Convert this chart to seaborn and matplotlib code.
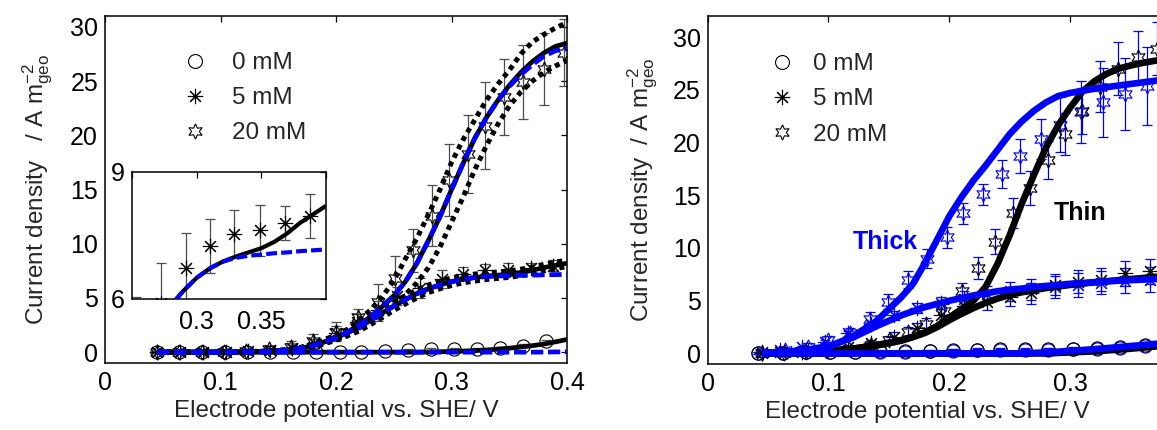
import matplotlib
matplotlib.use("Agg")
import matplotlib.pyplot as plt
import seaborn as sns
from matplotlib.lines import Line2D

# ---------------------------------------------------------------- data
# potential grid of the simulated curves (V vs. SHE)
e_sim = [0.045, 0.06, 0.08, 0.10, 0.12, 0.14, 0.16, 0.17, 0.18, 0.19, 0.20,
         0.21, 0.22, 0.23, 0.24, 0.25, 0.26, 0.27, 0.28, 0.29, 0.30, 0.31,
         0.32, 0.33, 0.34, 0.35, 0.36, 0.37, 0.38, 0.39, 0.40]

# left panel: model (black solid), fit (blue dashed), bounds (black dotted)
L0_model = [0, 0, 0, 0, 0, 0, 0, 0, 0, 0, 0, 0, 0, 0, 0, 0, 0, 0, 0.02, 0.04,
            0.07, 0.10, 0.14, 0.20, 0.28, 0.37, 0.48, 0.60, 0.75, 0.95, 1.17]
L0_fit = [0, 0, 0, 0, 0, 0, 0, 0, 0, 0, 0, 0, 0, 0, 0, 0, 0, 0, 0, 0,
          0, 0, 0, 0, 0, 0, 0, 0, 0.01, 0.02, 0.03]
L5_model = [0, 0, 0, 0.01, 0.03, 0.08, 0.20, 0.35, 0.60, 0.95, 1.35, 1.80,
            2.30, 2.95, 3.60, 4.25, 4.85, 5.40, 5.85, 6.20, 6.50, 6.72, 6.88,
            7.00, 7.10, 7.20, 7.35, 7.55, 7.80, 8.00, 8.20]
L5_fit = [0, 0, 0, 0.01, 0.03, 0.08, 0.20, 0.35, 0.60, 0.95, 1.35, 1.80,
          2.30, 2.95, 3.60, 4.25, 4.85, 5.40, 5.85, 6.20, 6.50, 6.72, 6.88,
          6.97, 7.02, 7.05, 7.08, 7.10, 7.13, 7.15, 7.17]
L5_upper = [0, 0, 0, 0.01, 0.04, 0.10, 0.25, 0.45, 0.75, 1.15, 1.60, 2.10,
            2.65, 3.30, 3.95, 4.60, 5.20, 5.75, 6.20, 6.55, 6.85, 7.05, 7.20,
            7.30, 7.40, 7.50, 7.65, 7.85, 8.10, 8.30, 8.50]
L5_lower = [0, 0, 0, 0, 0.02, 0.06, 0.15, 0.27, 0.47, 0.78, 1.10, 1.50,
            1.95, 2.55, 3.20, 3.85, 4.45, 5.00, 5.50, 5.85, 6.15, 6.40, 6.55,
            6.70, 6.80, 6.90, 7.05, 7.25, 7.50, 7.70, 7.90]
L20_model = [0, 0, 0, 0.01, 0.03, 0.08, 0.20, 0.35, 0.60, 0.95, 1.35, 1.85,
             2.50, 3.30, 4.20, 5.20, 6.50, 8.20, 10.3, 12.5, 15.0, 17.4, 19.7,
             21.6, 23.2, 24.6, 25.8, 26.8, 27.6, 28.2, 28.5]
L20_fit = [0, 0, 0, 0.01, 0.03, 0.08, 0.20, 0.35, 0.60, 0.95, 1.35, 1.85,
           2.50, 3.30, 4.20, 5.20, 6.50, 8.20, 10.3, 12.5, 15.0, 17.4, 19.7,
           21.6, 23.2, 24.5, 25.6, 26.5, 27.3, 27.8, 28.0]
L20_upper = [0, 0, 0, 0.01, 0.04, 0.10, 0.25, 0.45, 0.75, 1.10, 1.50, 2.10,
             3.00, 3.90, 5.10, 6.60, 8.60, 10.5, 12.7, 15.0, 17.5, 19.6, 21.4,
             23.2, 24.7, 26.0, 27.5, 28.6, 29.3, 29.9, 30.4]
L20_lower = [0, 0, 0, 0, 0.02, 0.06, 0.15, 0.27, 0.47, 0.80, 1.20, 1.60,
             2.10, 2.80, 3.50, 4.30, 5.30, 6.40, 7.80, 9.70, 12.0, 14.3, 16.8,
             19.0, 21.0, 22.7, 24.0, 25.0, 25.8, 26.4, 26.9]

# left panel: measurements (mean, standard deviation)
L0_E = [0.045, 0.064, 0.084, 0.104, 0.123, 0.143, 0.163, 0.183, 0.203, 0.222,
        0.242, 0.262, 0.282, 0.302, 0.322, 0.342, 0.362, 0.382]
L0_j = [0.0, 0.0, 0.0, 0.0, 0.0, 0.05, 0.05, 0.05, 0.05, 0.05, 0.1, 0.2,
        0.25, 0.3, 0.3, 0.35, 0.6, 1.0]
L0_sd = [0.1, 0.1, 0.1, 0.1, 0.1, 0.1, 0.1, 0.1, 0.1, 0.1, 0.1, 0.1, 0.1,
         0.1, 0.1, 0.1, 0.15, 0.15]
L5_E = [0.045, 0.065, 0.085, 0.105, 0.124, 0.143, 0.162, 0.181, 0.200, 0.218,
        0.236, 0.253, 0.2723, 0.2915, 0.310, 0.329, 0.349, 0.3685, 0.3877]
L5_j = [0.0, 0.0, 0.02, 0.05, 0.1, 0.2, 0.4, 0.8, 1.8, 2.8, 3.9, 5.2, 5.9,
        6.74, 7.25, 7.54, 7.62, 7.80, 7.96]
L5_sd = [0.1, 0.1, 0.1, 0.1, 0.15, 0.2, 0.3, 0.4, 0.6, 0.7, 0.8, 0.85, 0.95,
         0.82, 0.64, 0.56, 0.60, 0.40, 0.52]
L20_E = [0.045, 0.064, 0.084, 0.103, 0.122, 0.142, 0.161, 0.180, 0.200, 0.219,
         0.236, 0.251, 0.267, 0.283, 0.298, 0.314, 0.329, 0.345, 0.362, 0.380,
         0.397]
L20_j = [0.0, 0.0, 0.0, 0.05, 0.1, 0.25, 0.5, 1.0, 1.9, 3.25, 4.6, 6.8, 9.4,
         12.6, 15.85, 18.3, 20.9, 23.5, 24.9, 26.1, 27.6]
L20_sd = [0.1, 0.1, 0.1, 0.1, 0.2, 0.3, 0.5, 0.7, 0.9, 0.7, 1.7, 2.1, 2.0,
          2.8, 3.3, 3.6, 4.0, 3.5, 3.4, 3.3, 3.1]

# right panel: simulated curves for thin (black) and thick (blue) films
R0_thin = [0, 0, 0, 0, 0, 0, 0, 0, 0, 0, 0, 0, 0, 0, 0, 0, 0, 0, 0, 0.05,
           0.10, 0.15, 0.20, 0.28, 0.36, 0.45, 0.55, 0.65, 0.78, 0.90, 1.05]
R0_thick = [0, 0, 0, 0, 0, 0, 0, 0, 0, 0, 0, 0, 0, 0, 0, 0, 0, 0.05, 0.10,
            0.17, 0.25, 0.32, 0.40, 0.50, 0.60, 0.70, 0.80, 0.90, 1.00, 1.15,
            1.30]
R5_thin = [0.02, 0.05, 0.10, 0.25, 0.45, 0.75, 1.20, 1.55, 1.95, 2.50, 3.15,
           3.75, 4.30, 4.80, 5.20, 5.55, 5.80, 6.00, 6.20, 6.35, 6.50, 6.62,
           6.75, 6.85, 6.95, 7.05, 7.15, 7.25, 7.35, 7.45, 7.55]
R5_thick = [0.05, 0.10, 0.30, 0.70, 1.50, 2.60, 3.60, 4.00, 4.40, 4.70, 5.00,
            5.25, 5.50, 5.70, 5.90, 6.05, 6.15, 6.30, 6.40, 6.50, 6.60, 6.68,
            6.75, 6.82, 6.90, 6.95, 7.00, 7.05, 7.10, 7.15, 7.20]
R20_thin = [0.02, 0.05, 0.10, 0.25, 0.45, 0.80, 1.25, 1.60, 2.00, 2.60, 3.40,
            4.20, 5.00, 6.30, 8.50, 11.2, 14.2, 16.9, 19.5, 21.6, 23.3, 24.8,
            25.8, 26.5, 27.0, 27.3, 27.55, 27.75, 27.9, 28.0, 28.1]
R20_thick = [0.05, 0.10, 0.30, 0.60, 1.60, 3.10, 5.30, 6.60, 8.60, 10.8, 13.0,
             14.8, 16.4, 17.8, 19.3, 20.8, 22.0, 23.0, 23.8, 24.4, 24.7, 24.9,
             25.1, 25.25, 25.4, 25.55, 25.7, 25.85, 26.0, 26.1, 26.2]

# right panel: measurements
R0_E = [0.042, 0.0625, 0.0817, 0.1012, 0.1219, 0.1426, 0.1633, 0.184, 0.2033,
        0.2227, 0.242, 0.2627, 0.282, 0.3027, 0.322, 0.3414, 0.362]
R0_thin_j = [0.05, 0.05, 0.1, 0.1, 0.15, 0.2, 0.2, 0.25, 0.3, 0.35, 0.4,
             0.4, 0.4, 0.45, 0.5, 0.6, 0.8]
R0_thick_j = [0.05, 0.05, 0.1, 0.1, 0.1, 0.15, 0.15, 0.2, 0.25, 0.3, 0.3,
              0.3, 0.35, 0.4, 0.45, 0.55, 0.7]
R0_sd = [0.1, 0.1, 0.1, 0.1, 0.1, 0.1, 0.1, 0.1, 0.15, 0.15, 0.15, 0.15,
         0.15, 0.15, 0.2, 0.2, 0.2]
R5_E = [0.045, 0.060, 0.078, 0.097, 0.116, 0.135, 0.154, 0.173, 0.193, 0.212,
        0.231, 0.250, 0.268, 0.2875, 0.307, 0.326, 0.3455, 0.366, 0.385]
R5_thin_j = [0.05, 0.1, 0.15, 0.3, 0.6, 1.0, 1.6, 2.4, 3.6, 4.5, 4.9, 5.4,
             5.7, 6.5, 6.8, 7.0, 7.6, 7.8, 8.0]
R5_thick_j = [0.1, 0.3, 0.6, 1.1, 1.9, 2.8, 3.6, 4.3, 4.8, 5.2, 5.6, 5.9,
              6.1, 6.3, 6.5, 6.7, 6.9, 7.0, 7.1]
R5_sd = [0.1, 0.1, 0.1, 0.15, 0.2, 0.3, 0.4, 0.5, 0.6, 0.7, 0.8, 0.9, 1.0,
         1.0, 1.1, 1.1, 1.2, 1.2, 1.2]
R20_thin_E = [0.045, 0.063, 0.081, 0.099, 0.117, 0.135, 0.1505, 0.1655, 0.181,
              0.196, 0.2103, 0.2235, 0.238, 0.253, 0.2665, 0.282, 0.2958,
              0.3096, 0.3248, 0.340, 0.3565, 0.3717]
R20_thin_j = [0.05, 0.05, 0.1, 0.2, 0.4, 0.8, 1.3, 2.0, 2.8, 4.0, 5.9, 8.1,
              10.6, 13.3, 15.7, 18.3, 20.8, 23.0, 25.3, 27.0, 28.1, 28.9]
R20_thin_sd = [0.1, 0.1, 0.1, 0.15, 0.2, 0.3, 0.4, 0.5, 0.6, 0.7, 0.8, 1.0,
               1.2, 1.4, 1.6, 1.8, 2.0, 2.2, 2.4, 2.5, 2.5, 2.5]
R20_thick_E = [0.045, 0.064, 0.083, 0.100, 0.118, 0.134, 0.1495, 0.166,
               0.1813, 0.1978, 0.2116, 0.2276, 0.2434, 0.2586, 0.2759, 0.2917,
               0.3095, 0.327, 0.3454, 0.3635]
R20_thick_j = [0.05, 0.3, 0.65, 1.3, 1.9, 3.3, 4.9, 7.0, 9.0, 11.0, 13.3,
               15.1, 17.0, 18.7, 20.3, 21.7, 22.9, 23.8, 24.6, 25.4]
R20_thick_sd = [0.1, 0.2, 0.3, 0.4, 0.5, 0.6, 0.7, 0.8, 0.9, 1.0, 1.0, 1.0,
                1.3, 1.6, 1.9, 2.6, 2.9, 3.3, 3.4, 3.7]

conc_labels = ["0 mM", "5 mM", "20 mM"]
x_ticks = [0, 0.1, 0.2, 0.3, 0.4]
x_ticklabels_left = ["0", "0.1", "0.2", "0.3", "0.4"]
x_ticklabels_right = ["0", "0.1", "0.2", "0.3", ""]
y_ticks = [0, 5, 10, 15, 20, 25, 30]
x_title = "Electrode potential vs. SHE/ V"

# ---------------------------------------------------------------- style
sns.set_theme(style="white")
plt.rcParams["font.family"] = ["Liberation Sans", "DejaVu Sans"]
plt.rcParams["mathtext.fontset"] = "custom"
plt.rcParams["mathtext.rm"] = "Liberation Sans"
plt.rcParams["mathtext.it"] = "Liberation Sans:italic"
plt.rcParams["axes.edgecolor"] = "black"
plt.rcParams["axes.linewidth"] = 1.1

BLUE = "#0000ff"
FS = 17.5
M_CIRCLE = "o"
M_AST = (8, 2, 0)
M_STAR = (6, 1, 0)

fig = plt.figure(figsize=(11.57, 4.30), dpi=100)
axL = fig.add_axes([0.0908, 0.1558, 0.3993, 0.807])
axR = fig.add_axes([0.6117, 0.1535, 0.4175, 0.8093])
axI = fig.add_axes([0.1141, 0.3047, 0.1677, 0.2953])


def curve(ax, y, color, lw, ls, z):
    sns.lineplot(x=e_sim, y=y, ax=ax, color=color, linewidth=lw,
                 linestyle=ls, sort=False, estimator=None, legend=False,
                 zorder=z, dash_capstyle="butt", solid_capstyle="butt")


def points(ax, x, y, sd, marker, mcolor, ecolor, ms):
    ax.errorbar(x, y, yerr=sd, fmt="none", ecolor=ecolor, elinewidth=0.9,
                capsize=3.5, capthick=0.9, zorder=2)
    ax.plot(x, y, ls="none", marker=marker, ms=ms, mfc="none", mec=mcolor,
            mew=0.8, zorder=3)


DASH = (0, (2.6, 1.0))
DOT = (0, (1.0, 0.9))

# ---------------------------------------------------------------- left panel
points(axL, L0_E, L0_j, L0_sd, M_CIRCLE, "black", "0.3", 9.5)
points(axL, L5_E, L5_j, L5_sd, M_AST, "black", "0.3", 11)
points(axL, L20_E, L20_j, L20_sd, M_STAR, "black", "0.3", 11)

curve(axL, L0_model, "black", 3.4, "-", 4)
curve(axL, L5_model, "black", 3.4, "-", 4)
curve(axL, L20_model, "black", 3.4, "-", 4)
for yb in (L5_upper, L5_lower, L20_upper, L20_lower):
    curve(axL, yb, "black", 3.6, DOT, 5)
curve(axL, L0_fit, BLUE, 3.4, DASH, 6)
curve(axL, L5_fit, BLUE, 3.4, DASH, 6)
curve(axL, L20_fit, BLUE, 3.4, DASH, 6)

# inset: close-up of the 5 mM plateau
points(axI, L5_E, L5_j, L5_sd, M_AST, "black", "0.3", 11)
curve(axI, L5_model, "black", 3.0, "-", 4)
curve(axI, L5_fit, BLUE, 3.0, DASH, 6)

axL.set_xlim(0, 0.4)
axL.set_ylim(-1, 31)
axI.set_xlim(0.25, 0.4)
axI.set_ylim(6, 9)
axI.set_facecolor("white")
axI.set_zorder(10)
axI.set_xticks([0.25, 0.3, 0.35, 0.4])
axI.set_xticklabels(["", "0.3", "0.35", ""])
axI.set_yticks([6, 9])
axI.set_yticklabels(["6", "9"])

# ---------------------------------------------------------------- right panel
points(axR, R0_E, R0_thick_j, R0_sd, M_CIRCLE, BLUE, BLUE, 9.5)
points(axR, R0_E, R0_thin_j, R0_sd, M_CIRCLE, "black", BLUE, 9.5)
points(axR, R5_E, R5_thick_j, R5_sd, M_AST, BLUE, BLUE, 11)
points(axR, R5_E, R5_thin_j, R5_sd, M_AST, "black", BLUE, 11)
points(axR, R20_thick_E, R20_thick_j, R20_thick_sd, M_STAR, BLUE, BLUE, 11)
points(axR, R20_thin_E, R20_thin_j, R20_thin_sd, M_STAR, "black", BLUE, 11)

for y in (R0_thin, R5_thin, R20_thin):
    curve(axR, y, "black", 4.8, "-", 4)
for y in (R0_thick, R5_thick, R20_thick):
    curve(axR, y, BLUE, 4.8, "-", 5)

axR.text(0.1467, 10.6, "Thick", color=BLUE, fontsize=18, fontweight="bold",
         ha="center", va="center", zorder=8)
axR.text(0.308, 13.3, "Thin", color="black", fontsize=18, fontweight="bold",
         ha="center", va="center", zorder=8)
axR.set_xlim(0, 0.4)
axR.set_ylim(-1, 32)

# ---------------------------------------------------------------- axes cosmetics
ylab = r"Current density{} / A m$^{{\mathrm{{-2}}}}_{{\mathrm{{geo}}}}$"
for ax, sp, xtl in ((axL, "  ", x_ticklabels_left),
                    (axR, " ", x_ticklabels_right)):
    ax.set_xticks(x_ticks)
    ax.set_xticklabels(xtl)
    ax.set_yticks(y_ticks)
    ax.set_xlabel(x_title, fontsize=FS)
    ax.set_ylabel(ylab.format(sp), fontsize=FS)

axL.xaxis.set_label_coords(0.5, -0.108)
axR.xaxis.set_label_coords(0.454, -0.106)
axL.yaxis.set_label_coords(-0.108, 0.5)
axR.yaxis.set_label_coords(-0.099, 0.5)

for ax in (axL, axR, axI):
    ax.tick_params(direction="in", length=4, width=0.9, top=True, right=True,
                   labelsize=18, colors="black", pad=6)
    ax.tick_params(axis="y", pad=5)
    for s in ax.spines.values():
        s.set_visible(True)
        s.set_color("black")
        s.set_linewidth(1.1)
    ax.grid(False)
axI.tick_params(axis="x", pad=8)

# ---------------------------------------------------------------- legends
handles = [Line2D([], [], ls="none", marker=M_CIRCLE, ms=10, mfc="none",
                  mec="black", mew=0.8),
           Line2D([], [], ls="none", marker=M_AST, ms=11, mec="black", mew=0.8),
           Line2D([], [], ls="none", marker=M_STAR, ms=11, mfc="none",
                  mec="black", mew=0.8)]
axL.legend(handles, conc_labels, loc="upper left", bbox_to_anchor=(0.169, 0.896),
           frameon=False, fontsize=FS, handlelength=1.0, handletextpad=1.0,
           labelspacing=0.54, borderpad=0, borderaxespad=0)
axR.legend(handles, conc_labels, loc="upper left", bbox_to_anchor=(0.128, 0.893),
           frameon=False, fontsize=FS, handlelength=1.0, handletextpad=0.8,
           labelspacing=0.54, borderpad=0, borderaxespad=0)

fig.savefig("out.png", dpi=100)
